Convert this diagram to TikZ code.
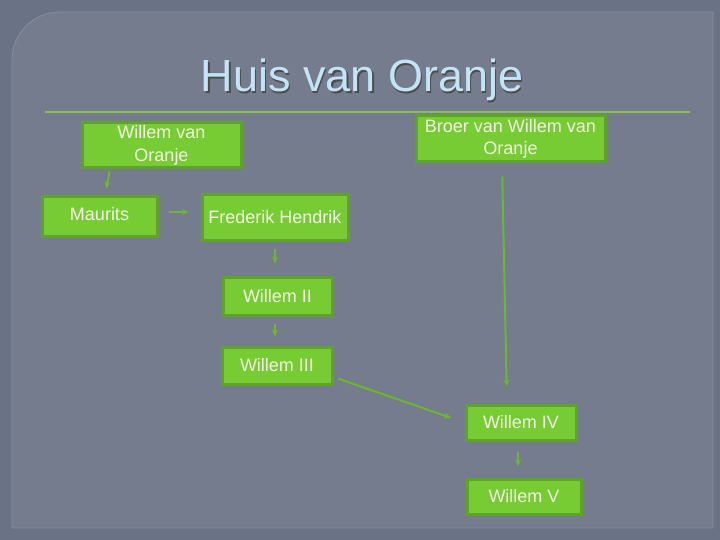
\documentclass[tikz,border=0pt]{standalone}
\usepackage{fontspec}
\setmainfont{Liberation Sans}
\usetikzlibrary{arrows.meta}
\definecolor{outerbg}{HTML}{6A7285}
\definecolor{panelbg}{HTML}{747C8E}
\definecolor{panelrim}{HTML}{868EA0}
\definecolor{leaf}{HTML}{77CC33}
\definecolor{leafrim}{HTML}{5EA42A}
\definecolor{leaftext}{HTML}{F2F4E4}
\definecolor{titleblue}{HTML}{C3E4F7}
\definecolor{ruleline}{HTML}{86BE52}
\tikzset{
  famnode/.style = {draw = leafrim, line width = 3pt, fill = leaf, text = leaftext, align = center, font = \fontsize{18}{22.5}\selectfont, inner sep = 0pt},
  descent/.style = {draw = leaf!90!black, line width = 2pt, -{Stealth[length=7pt,width=6pt]}}
}
\begin{document}
\begin{tikzpicture}[x=1pt, y=-1pt]
\useasboundingbox (0,0) rectangle (720,540);
\fill[outerbg] (0,0) rectangle (720,540);
\draw[fill = panelbg, draw = panelrim, line width = 0.8pt] (12,528) -- (12,60) arc[start angle=180, end angle=270, radius=48] -- (713,12) -- (713,528) -- cycle;
\node[text = black!70, font = \fontsize{45}{50}\selectfont] at (363.5,81.5) {Huis van Oranje};
\node[text = titleblue, font = \fontsize{45}{50}\selectfont] (title) at (362,80) {Huis van Oranje};
\draw[ruleline, line width = 1.2pt] (45,112) -- (690,112);
\node[famnode, minimum width = 159pt, minimum height = 45pt] (wvo) at (161.5,145.5) {Willem van\\Oranje};
\node[famnode, minimum width = 189pt, minimum height = 46pt] (broer) at (510.5,139) {Broer van Willem van\\Oranje};
\node[famnode, minimum width = 115pt, minimum height = 39pt, text depth = 6pt] (maurits) at (99.5,216.5) {Maurits};
\node[famnode, minimum width = 146pt, minimum height = 45pt] (fh) at (275,217.5) {Frederik Hendrik};
\node[famnode, minimum width = 109pt, minimum height = 38pt] (w2) at (277.5,296) {Willem II};
\node[famnode, minimum width = 110pt, minimum height = 37pt] (w3) at (277,365.5) {Willem III};
\node[famnode, minimum width = 110pt, minimum height = 35pt] (w4) at (521,422.5) {Willem IV};
\node[famnode, minimum width = 114pt, minimum height = 35pt] (w5) at (524,496.5) {Willem V};
\draw[descent, shorten < = 2pt, shorten > = 7pt] ([xshift=-51.5pt]wvo.south) -- ([xshift=5.5pt]maurits.north);
\draw[descent, shorten < = 10pt, shorten > = 12pt] ([yshift=4.5pt]maurits.east) -- ([yshift=5.5pt]fh.west);
\draw[descent, shorten < = 7pt, shorten > = 12pt] (fh.south) -- ([xshift=-2.5pt]w2.north);
\draw[descent, shorten < = 7pt, shorten > = 9pt] ([xshift=-2.5pt]w2.south) -- ([xshift=-2pt]w3.north);
\draw[descent, shorten < = 5pt, shorten > = 14pt] ([yshift=-11.5pt]w3.east) -- (w4.west);
\draw[descent, shorten < = 13pt, shorten > = 17pt] ([xshift=-8.5pt]broer.south) -- ([xshift=-14pt]w4.north);
\draw[descent, shorten < = 10pt, shorten > = 11pt] ([xshift=-3pt]w4.south) -- ([xshift=-6pt]w5.north);
\end{tikzpicture}
\end{document}
